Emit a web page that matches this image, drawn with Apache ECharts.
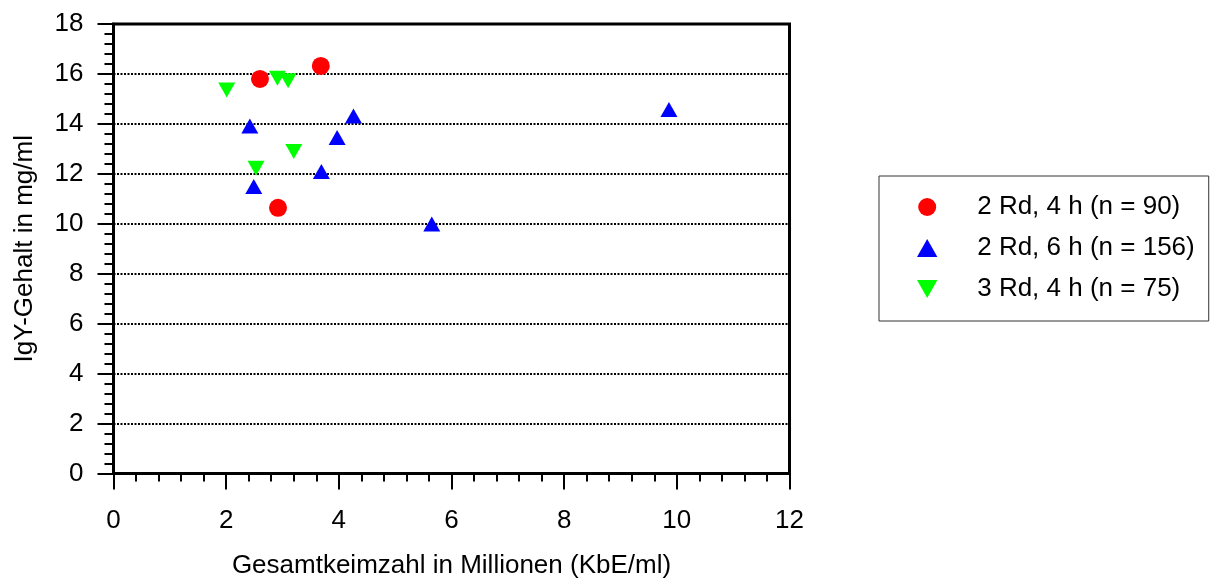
<!DOCTYPE html>
<html>
<head>
<meta charset="utf-8">
<style>
  html, body { margin: 0; padding: 0; background: #fff; }
  #chart { width: 1210px; height: 578px; }
</style>
<script src="https://cdn.jsdelivr.net/npm/echarts@6/dist/echarts.min.js"></script>
</head>
<body>
<div id="chart"></div>
<script>
// IgY content vs. total bacterial count, three immunisation regimes
const seriesNames = ['2 Rd, 4 h (n = 90)', '2 Rd, 6 h (n = 156)', '3 Rd, 4 h (n = 75)'];

// total count in millions (KbE/ml)
const keimzahl_2Rd_4h = [2.60, 3.68, 2.92];
const keimzahl_2Rd_6h = [2.42, 4.26, 3.97, 3.69, 2.49, 5.65, 9.86];
const keimzahl_3Rd_4h = [2.01, 2.91, 3.10, 3.20, 2.53];

// IgY content in mg/ml
const igy_2Rd_4h = [15.80, 16.32, 10.64];
const igy_2Rd_6h = [13.92, 14.32, 13.45, 12.09, 11.49, 9.99, 14.58];
const igy_3Rd_4h = [15.36, 15.83, 15.73, 12.89, 12.22];

const xTicks = [0, 2, 4, 6, 8, 10, 12];
const yTicks = [0, 2, 4, 6, 8, 10, 12, 14, 16, 18];

const FONT = "'Liberation Sans', Arial, sans-serif";
const FS = 26;

const pair = (xs, ys) => xs.map((x, i) => [x, ys[i]]);

const TRI_UP = 'path://M0,15 L8.5,0 L17,15 Z';
const TRI_DOWN = 'path://M0,0 L17,0 L8.5,15 Z';

const chart = echarts.init(document.getElementById('chart'), null, { renderer: 'canvas' });

chart.setOption({
  animation: false,
  backgroundColor: '#ffffff',
  textStyle: { fontFamily: FONT, color: '#000' },
  grid: {
    left: 113.5, top: 24, width: 676, height: 449.5,
    outerBoundsMode: 'none', containLabel: false,
    show: true, borderColor: '#000', borderWidth: 3, backgroundColor: 'transparent'
  },
  legend: {
    orient: 'vertical',
    left: 879, top: 176,
    padding: [18, 14, 19, 38],
    itemWidth: 90, itemHeight: 18, itemGap: 15,
    borderColor: '#333', borderWidth: 1,
    textStyle: { fontFamily: FONT, fontSize: FS, color: '#000' },
    data: seriesNames
  },
  xAxis: {
    type: 'value',
    min: xTicks[0], max: xTicks[xTicks.length - 1], interval: 2,
    name: 'Gesamtkeimzahl in Millionen (KbE/ml)',
    nameLocation: 'middle', nameGap: 79,
    nameTextStyle: { fontFamily: FONT, fontSize: FS, color: '#000' },
    axisLine: { show: true, onZero: false, lineStyle: { color: '#000', width: 3 } },
    axisTick: { show: true, inside: false, length: 16, lineStyle: { color: '#000', width: 2 } },
    minorTick: { show: true, splitNumber: 5, length: 8, lineStyle: { color: '#000', width: 2 } },
    axisLabel: { margin: 34, fontFamily: FONT, fontSize: FS, color: '#000' },
    splitLine: { show: false }
  },
  yAxis: {
    type: 'value',
    min: yTicks[0], max: yTicks[yTicks.length - 1], interval: 2,
    name: 'IgY-Gehalt in mg/ml',
    nameLocation: 'middle', nameGap: 76, nameRotate: 90,
    nameTextStyle: { fontFamily: FONT, fontSize: FS, color: '#000' },
    axisLine: { show: true, onZero: false, lineStyle: { color: '#000', width: 3 } },
    axisTick: { show: true, inside: false, length: 16, lineStyle: { color: '#000', width: 2 } },
    minorTick: { show: true, splitNumber: 5, length: 9, lineStyle: { color: '#000', width: 2 } },
    axisLabel: { margin: 30, fontFamily: FONT, fontSize: FS, color: '#000' },
    splitLine: { show: true, lineStyle: { color: '#000', width: 2, type: [2, 1.5] } }
  },
  series: [
    {
      name: seriesNames[0], type: 'scatter',
      symbol: 'circle', symbolSize: 18,
      itemStyle: { color: '#ff0000', opacity: 1 },
      data: pair(keimzahl_2Rd_4h, igy_2Rd_4h)
    },
    {
      name: seriesNames[1], type: 'scatter',
      symbol: TRI_UP, symbolSize: [17, 15],
      itemStyle: { color: '#0000ff', opacity: 1 },
      data: pair(keimzahl_2Rd_6h, igy_2Rd_6h)
    },
    {
      name: seriesNames[2], type: 'scatter',
      symbol: TRI_DOWN, symbolSize: [17, 15],
      itemStyle: { color: '#00ff00', opacity: 1 },
      data: pair(keimzahl_3Rd_4h, igy_3Rd_4h)
    }
  ]
});
</script>
</body>
</html>
